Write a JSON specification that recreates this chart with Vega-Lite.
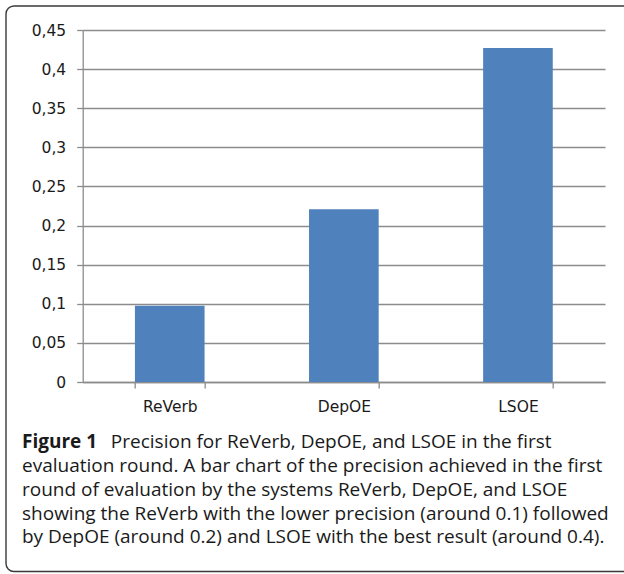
{
  "$schema": "https://vega.github.io/schema/vega-lite/v6.json",
  "width": 522.3,
  "height": 352,
  "autosize": {"type": "none"},
  "padding": {"left": 82.7, "top": 30, "right": 19, "bottom": 192},
  "background": "white",
  "title": {
    "text": "Figure 1",
    "subtitle": [
      "\u200b\u00a0\u00a0\u00a0\u00a0\u00a0\u00a0\u00a0\u00a0\u00a0\u00a0\u00a0\u00a0\u00a0\u00a0\u00a0\u00a0\u00a0\u00a0Precision for ReVerb, DepOE, and LSOE in the first",
      "evaluation round. A bar chart of the precision achieved in the first",
      "round of evaluation by the systems ReVerb, DepOE, and LSOE",
      "showing the ReVerb with the lower precision (around 0.1) followed",
      "by DepOE (around 0.2) and LSOE with the best result (around 0.4)."
    ],
    "orient": "bottom",
    "anchor": "start",
    "frame": "group",
    "dx": -60.7,
    "offset": -139,
    "font": "Open Sans",
    "fontSize": 19,
    "fontWeight": "bold",
    "color": "#1a1a1a",
    "subtitleFont": "Open Sans",
    "subtitleFontSize": 19,
    "subtitleFontWeight": "normal",
    "subtitleColor": "#1a1a1a",
    "subtitleLineHeight": 23.8,
    "subtitlePadding": -19
  },
  "layer": [
    {
      "data": {"values": [{"frame": 1}]},
      "mark": {
        "type": "rect",
        "fill": null,
        "stroke": "#3a3a3a",
        "strokeWidth": 1.4,
        "cornerRadius": 8
      },
      "encoding": {
        "x": {"value": -76.7},
        "x2": {"value": 560},
        "y": {"value": -24},
        "y2": {"value": 541.5}
      }
    },
    {
      "data": {
        "values": [
          {"system": "ReVerb", "precision": 0.0975},
          {"system": "DepOE", "precision": 0.221},
          {"system": "LSOE", "precision": 0.427}
        ]
      },
      "mark": {"type": "bar", "color": "#4F81BD"},
      "encoding": {
        "x": {
          "field": "system",
          "type": "nominal",
          "sort": ["ReVerb", "DepOE", "LSOE"],
          "scale": {"paddingInner": 0.6, "paddingOuter": 0.3},
          "axis": {
            "title": null,
            "labelAngle": 0,
            "tickBand": "extent",
            "tickSize": 6,
            "labelPadding": 11,
            "grid": false
          }
        },
        "y": {
          "field": "precision",
          "type": "quantitative",
          "scale": {"domain": [0, 0.45], "nice": false},
          "axis": {
            "title": null,
            "values": [0, 0.05, 0.1, 0.15, 0.2, 0.25, 0.3, 0.35, 0.4, 0.45],
            "labelExpr": "replace(format(datum.value, '~g'), '.', ',')",
            "tickSize": 6,
            "labelPadding": 11,
            "grid": true
          }
        }
      }
    }
  ],
  "config": {
    "view": {"stroke": null},
    "axis": {
      "domainColor": "#8c8c8c",
      "domainWidth": 1.3,
      "tickColor": "#8c8c8c",
      "tickWidth": 1.3,
      "gridColor": "#8c8c8c",
      "gridWidth": 1.3,
      "labelFont": "DejaVu Sans",
      "labelFontSize": 15.5,
      "labelColor": "#1a1a1a"
    }
  }
}
